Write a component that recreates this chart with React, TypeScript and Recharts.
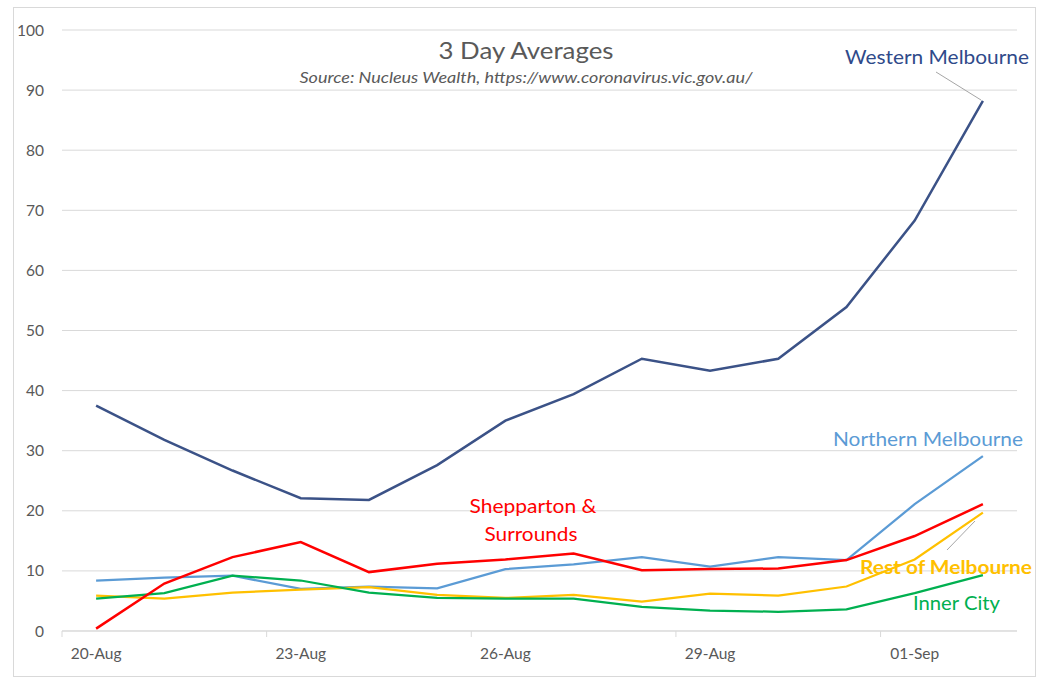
import { LineChart, Line, XAxis, YAxis, CartesianGrid } from "recharts";

const dates = [
    "20-Aug", "21-Aug", "22-Aug", "23-Aug", "24-Aug", "25-Aug", "26-Aug",
    "27-Aug", "28-Aug", "29-Aug", "30-Aug", "31-Aug", "01-Sep", "02-Sep",
];
const western = [37.5, 31.8, 26.7, 22.1, 21.8, 27.6, 35.0, 39.4, 45.3, 43.3, 45.3, 53.9, 68.3, 88.2];
const northern = [8.4, 8.9, 9.2, 7.0, 7.4, 7.1, 10.3, 11.1, 12.3, 10.7, 12.3, 11.8, 21.1, 29.1];
const shepparton = [0.4, 7.9, 12.3, 14.8, 9.8, 11.2, 11.9, 12.9, 10.1, 10.3, 10.4, 11.8, 15.8, 21.1];
const restOfMelb = [5.9, 5.4, 6.4, 6.9, 7.3, 6.0, 5.5, 6.0, 4.9, 6.2, 5.9, 7.4, 11.9, 19.7];
const innerCity = [5.4, 6.3, 9.2, 8.4, 6.4, 5.5, 5.4, 5.4, 4.0, 3.4, 3.2, 3.6, 6.3, 9.3];
const yTicks = [0, 10, 20, 30, 40, 50, 60, 70, 80, 90, 100];

const data = dates.map((d, i) => ({
    date: d,
    western: western[i],
    northern: northern[i],
    shepparton: shepparton[i],
    rest: restOfMelb[i],
    inner: innerCity[i],
}));

const CHART_W = 1020;
const CHART_H = 668;
const MARGIN = { top: 22, right: 17, bottom: 15, left: 0 };
const Y_AXIS_W = 48;
const PLOT_W = CHART_W - MARGIN.left - MARGIN.right - Y_AXIS_W;
const HALF_BAND = PLOT_W / dates.length / 2;

const FONT = "Lato, 'Open Sans', sans-serif";
const GRID = "#d9d9d9";
const TEXT = "#595959";

const COLORS = {
    western: "#3b5287",
    northern: "#5b9bd5",
    shepparton: "#ff0000",
    rest: "#ffc000",
    inner: "#00b050",
};

// Excel-style: tick mark sits on the category boundary, label in the middle
function DateTick(props: any) {
    const { x, y, payload } = props;
    return (
        <g>
            <line x1={x - HALF_BAND} y1={y} x2={x - HALF_BAND} y2={y + 6} stroke={GRID} />
            <text x={x} y={y + 28} textAnchor="middle" fill={TEXT} fontSize={15.5} fontFamily={FONT}>
                {payload.value}
            </text>
        </g>
    );
}

export default function App() {
    const series: [keyof typeof COLORS, number][] = [
        ["northern", 2.25],
        ["rest", 2.25],
        ["inner", 2.25],
        ["shepparton", 2.5],
        ["western", 2.5],
    ];

    return (
        <div style={{ position: "absolute", left: 0, top: 0, width: 1047, height: 690, background: "#fff" }}>
            <div
                style={{
                    position: "absolute",
                    left: 13,
                    top: 7,
                    width: 1023,
                    height: 670,
                    boxSizing: "border-box",
                    border: `1px solid ${GRID}`,
                }}
            />
            <div style={{ position: "absolute", left: 14, top: 8 }}>
                <LineChart width={CHART_W} height={CHART_H} data={data} margin={MARGIN}>
                    <CartesianGrid vertical={false} stroke={GRID} strokeWidth={1} />
                    <XAxis
                        dataKey="date"
                        interval={2}
                        padding={{ left: HALF_BAND, right: HALF_BAND }}
                        axisLine={{ stroke: GRID }}
                        tickLine={false}
                        tickSize={0}
                        tickMargin={0}
                        height={30}
                        tick={<DateTick />}
                    />
                    <YAxis
                        domain={[0, 100]}
                        ticks={yTicks}
                        width={Y_AXIS_W}
                        axisLine={false}
                        tickLine={false}
                        tickSize={0}
                        tickMargin={18}
                        tick={{ fontSize: 15.5, fill: TEXT, fontFamily: FONT }}
                    />
                    {series.map(([key, w]) => (
                        <Line
                            key={key}
                            type="linear"
                            dataKey={key}
                            stroke={COLORS[key]}
                            strokeWidth={w}
                            dot={false}
                            activeDot={false}
                            isAnimationActive={false}
                        />
                    ))}
                </LineChart>
            </div>
            <svg
                width={1047}
                height={690}
                style={{ position: "absolute", left: 0, top: 0, pointerEvents: "none" }}
                fontFamily={FONT}
            >
                <text x={526} y={59} textAnchor="middle" fontSize={24} fill={TEXT} textLength={175} lengthAdjust="spacingAndGlyphs">
                    3 Day Averages
                </text>
                <text x={526} y={83} textAnchor="middle" fontSize={15.5} fontStyle="italic" fill={TEXT} textLength={453} lengthAdjust="spacingAndGlyphs">
                    Source:  Nucleus Wealth, https://www.coronavirus.vic.gov.au/
                </text>

                <line x1={936} y1={72} x2={981} y2={100} stroke="#a6a6a6" strokeWidth={1} />
                <line x1={947} y1={550} x2={975} y2={521} stroke="#a6a6a6" strokeWidth={1} />

                <text x={845} y={64} fontSize={19} fill="#2f4a8a" textLength={184} lengthAdjust="spacingAndGlyphs">
                    Western Melbourne
                </text>
                <text x={833} y={446} fontSize={19} fill={COLORS.northern} textLength={190} lengthAdjust="spacingAndGlyphs">
                    Northern Melbourne
                </text>
                <text x={533} y={513} textAnchor="middle" fontSize={20} fill={COLORS.shepparton} textLength={127} lengthAdjust="spacingAndGlyphs">
                    Shepparton &amp;
                </text>
                <text x={531} y={541} textAnchor="middle" fontSize={20} fill={COLORS.shepparton} textLength={93} lengthAdjust="spacingAndGlyphs">
                    Surrounds
                </text>
                <text x={860} y={574} fontSize={19} fontWeight="bold" fill={COLORS.rest} textLength={172} lengthAdjust="spacingAndGlyphs">
                    Rest of Melbourne
                </text>
                <text x={913} y={610} fontSize={19} fill={COLORS.inner} textLength={87} lengthAdjust="spacingAndGlyphs">
                    Inner City
                </text>
            </svg>
        </div>
    );
}
